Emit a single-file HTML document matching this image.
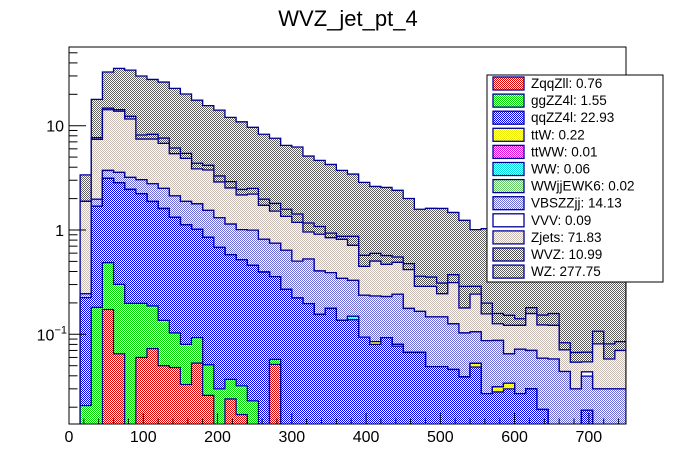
<!DOCTYPE html>
<html><head><meta charset="utf-8"><style>
html,body{margin:0;padding:0;background:#fff;}
svg{display:block;font-family:"Liberation Sans",Arial,sans-serif;}
</style></head><body>
<svg id="chart" width="696" height="472" viewBox="0 0 696 472" xmlns="http://www.w3.org/2000/svg">
<defs>
<pattern id="p-red" width="2" height="2" patternUnits="userSpaceOnUse"><rect width="2" height="2" fill="#fff"/><rect width="1" height="1" fill="#e00000"/><rect x="1" y="1" width="1" height="1" fill="#e00000"/></pattern>
<pattern id="p-green" width="2" height="2" patternUnits="userSpaceOnUse"><rect width="2" height="2" fill="#fff"/><rect width="1" height="1" fill="#00dd00"/><rect x="1" y="1" width="1" height="1" fill="#00dd00"/></pattern>
<pattern id="p-blue" width="2" height="2" patternUnits="userSpaceOnUse"><rect width="2" height="2" fill="#fff"/><rect width="1" height="1" fill="#0000ee"/><rect x="1" y="1" width="1" height="1" fill="#0000ee"/></pattern>
<pattern id="p-yellow" width="2" height="2" patternUnits="userSpaceOnUse"><rect width="2" height="2" fill="#fff"/><rect width="1" height="1" fill="#eeee00"/><rect x="1" y="1" width="1" height="1" fill="#eeee00"/></pattern>
<pattern id="p-magenta" width="2" height="2" patternUnits="userSpaceOnUse"><rect width="2" height="2" fill="#fff"/><rect width="1" height="1" fill="#e000e0"/><rect x="1" y="1" width="1" height="1" fill="#e000e0"/></pattern>
<pattern id="p-cyan" width="2" height="2" patternUnits="userSpaceOnUse"><rect width="2" height="2" fill="#fff"/><rect width="1" height="1" fill="#00e0e0"/><rect x="1" y="1" width="1" height="1" fill="#00e0e0"/></pattern>
<pattern id="p-lgreen" width="2" height="2" patternUnits="userSpaceOnUse"><rect width="2" height="2" fill="#fff"/><rect width="1" height="1" fill="#66cc66"/><rect x="1" y="1" width="1" height="1" fill="#66cc66"/></pattern>
<pattern id="p-lblue" width="2" height="2" patternUnits="userSpaceOnUse"><rect width="2" height="2" fill="#fff"/><rect width="1" height="1" fill="#6a6ad8"/><rect x="1" y="1" width="1" height="1" fill="#6a6ad8"/></pattern>
<pattern id="p-beige" width="2" height="2" patternUnits="userSpaceOnUse"><rect width="2" height="2" fill="#fff"/><rect width="1" height="1" fill="#c8bcb4"/><rect x="1" y="1" width="1" height="1" fill="#c8bcb4"/></pattern>
<pattern id="p-grey" width="2" height="2" patternUnits="userSpaceOnUse"><rect width="2" height="2" fill="#fff"/><rect width="1" height="1" fill="#505050"/><rect x="1" y="1" width="1" height="1" fill="#505050"/></pattern>
<pattern id="p-grey2" width="2" height="2" patternUnits="userSpaceOnUse"><rect width="2" height="2" fill="#fff"/><rect width="1" height="1" fill="#606060"/><rect x="1" y="1" width="1" height="1" fill="#606060"/></pattern>
<clipPath id="frame-clip"><rect x="69" y="47" width="557" height="377"/></clipPath>
</defs>
<text x="348" y="26" font-size="22" text-anchor="middle" fill="#000">WVZ_jet_pt_4</text>
<g id="bars" clip-path="url(#frame-clip)"></g>
<rect x="69" y="47" width="557" height="377" fill="none" stroke="#000" stroke-width="1"/>
<g id="axes"></g>
<g id="legend"></g>
</svg>
<script>
const binWidth = 15;
const xTickLabels = [0,100,200,300,400,500,600,700];
const yTickValues = [0.1,1,10];
const sampleNames = ["ZqqZll","ggZZ4l","qqZZ4l","ttW","ttWW","WW","WWjjEWK6","VBSZZjj","VVV","Zjets","WVZ","WZ"];
const sampleYields = ["0.76","1.55","22.93","0.22","0.01","0.06","0.02","14.13","0.09","71.83","10.99","277.75"];
const ZqqZll = [0,0,0,.173,.065,0,.060,.073,.050,.048,.033,.053,.026,0,.024,.017,0,0,.0515,0,0,0,0,0,0,0,0,0,0,0,0,0,0,0,0,0,0,0,0,0,0,0,0,0,0,0,0,0,0,0];
const ggZZ4l = [0,.0207,.181,.313,.236,.198,.138,.114,.086,.055,.047,.040,.025,.030,.013,.015,.023,0,.006,0,0,0,0,0,0,0,0,0,0,0,0,0,0,0,0,0,0,0,0,0,0,0,0,0,0,0,0,0,0,0];
const qqZZ4l = [0,.204,1.51,2.64,2.54,2.25,2.03,1.69,1.47,1.22,1.04,.92,.80,.65,.543,.487,.435,.395,.30,.27,.223,.197,.155,.177,.136,.138,.094,.080,.093,.077,.067,.067,.049,.049,.046,.039,.0486,.027,.028,.030,.027,.030,.019,0,0,0,.0187,0,0,0];
const ttW = [0,0,0,0,0,0,0,0,0,0,0,0,0,0,0,0,0,0,0,0,0,0,0,0,0,0,0,.005,0,.003,0,0,0,0,0,0,.004,0,.0033,.004,0,0,0,0,0,0,0,0,0,0];
const ttWW = [0,0,0,0,0,0,0,0,0,0,0,0,0,0,0,0,0,0,0,0,0,0,0,0,0,0,0,0,0,0,0,0,0,0,0,0,0,0,0,0,0,0,0,0,0,0,0,0,0,0];
const WW = [0,0,0,0,0,0,0,0,0,0,0,0,0,0,0,0,0,0,0,0,0,0,0,0,0,.011,0,0,0,0,0,0,0,0,0,0,0,0,0,0,0,0,0,0,0,0,0,0,0,0];
const WWjjEWK6 = [0,0,0,0,0,0,0,0,0,0,0,0,0,0,0,0,0,0,0,0,0,0,0,0,0,0,0,0,0,0,0,0,0,0,0,0,0,0,0,0,0,0,0,0,0,0,0,0,0,0];
const VBSZZjj = [0,.02,.28,.6,.73,.75,.81,.9,.9,.8,.76,.77,.69,.63,.56,.49,.54,.42,.39,.37,.28,.33,.25,.213,.208,.18,.143,.148,.137,.162,.11,.099,.098,.098,.08,.064,.053,.06,.056,.031,.045,.04,.04,.058,.044,.03,.021,.03,.03,.03];
const VVV = [0,0,0,0,0,0,0,0,0,0,0,0,0,0,0,0,0,0,0,0,0,0,0,0,0,0,0,0,0,0,0,0,0,0,0,0,0,0,0,0,0,0,0,0,0,0,.004,0,0,0];
const Zjets = [0,1.64,5.43,10.5,10.2,8.4,4.41,4.67,4.26,3.27,2.98,2.07,2.22,1.58,1.39,1.16,1.21,.91,.77,.71,.68,.43,.505,.454,.47,.384,.211,.271,.239,.248,.24,.122,.141,.098,.187,.076,.137,.07,.039,.057,.05,.088,.064,.064,.027,.024,.0107,.051,.028,.040];
const WVZ = [0,0,.28,.5,.5,.7,.69,.82,.85,.72,.57,.51,.41,.41,.38,.28,.30,.25,.28,.23,.24,.21,.17,.09,.056,.157,.124,.093,.10,.061,.059,.072,.066,.065,.06,.109,.046,.042,.032,.03,.019,.022,.03,.036,.012,.013,.013,.026,.023,.015];
const WZ = [0,1.49,10.2,18.0,21.2,21.8,21.8,19.5,18.6,16.7,14.7,13.2,11.4,10.8,9.1,8.45,7.14,6.30,5.78,4.90,4.83,3.95,3.57,3.32,2.86,2.57,2.29,2.02,1.99,1.85,1.53,1.22,1.26,1.30,1.10,.95,.72,.83,.73,.64,.57,.46,.42,.354,.39,.374,.342,.274,.273,.255];

const layers = [ZqqZll,ggZZ4l,qqZZ4l,ttW,ttWW,WW,WWjjEWK6,VBSZZjj,VVV,Zjets,WVZ,WZ];
const fills = ["p-red","p-green","p-blue","p-yellow","p-magenta","p-cyan","p-lgreen","p-lblue","#fff","p-beige","p-grey","p-grey2"];

const X0=69, X1=626, Y0=47, Y1=424, XMAX=750;
function xs(v){return X0+(v/XMAX)*(X1-X0);}
function ys(v){ if(v<=0) return Y1+2; const y=230-104.3*Math.log10(v); return Math.min(Y1+2,Math.max(Y0-2,y)); }
const NS="http://www.w3.org/2000/svg";
function mk(tag,attrs,parent){const e=document.createElementNS(NS,tag);for(const k in attrs)e.setAttribute(k,attrs[k]);parent.appendChild(e);return e;}

const bars=document.getElementById('bars');
const nb=WZ.length;
// cumulative
const cum=[];
let run=new Array(nb).fill(0);
for(let l=0;l<layers.length;l++){run=run.map((v,i)=>v+layers[l][i]);cum.push(run.slice());}
for(let l=layers.length-1;l>=0;l--){
  const c=cum[l];
  let d="M"+xs(0)+","+(Y1+2);
  for(let i=0;i<nb;i++){const y=ys(c[i]);d+=" L"+xs(i*binWidth).toFixed(2)+","+y.toFixed(2)+" L"+xs((i+1)*binWidth).toFixed(2)+","+y.toFixed(2);}
  d+=" L"+xs(nb*binWidth)+","+(Y1+2)+" Z";
  const f=fills[l];
  const p=mk('path',{d:d,fill:f.startsWith('#')?f:"url(#"+f+")",stroke:"#000099","stroke-width":"1.3"},bars);
  
  
}

const axes=document.getElementById('axes');
// x ticks
for(let v=0;v<=XMAX;v+=20){
  const major=v%100===0;
  const t=mk('line',{x1:xs(v),x2:xs(v),y1:Y1,y2:Y1-(major?11:5.5),stroke:"#000","stroke-width":1},axes);
  
  
}
xTickLabels.forEach(v=>{
  const t=mk('text',{x:xs(v),y:442,"font-size":16,"text-anchor":"middle"},axes);
  t.textContent=String(v);
  
  
});
// y ticks
for(let e=-2;e<=1;e++){
  for(let m=1;m<=9;m++){
    const v=m*Math.pow(10,e);
    const y=230-104.3*Math.log10(v);
    if(y<Y0||y>Y1) continue;
    const t=mk('line',{x1:X0,x2:X0+(m===1?17:8.5),y1:y,y2:y,stroke:"#000","stroke-width":1},axes);
    
    
  }
}
yTickValues.forEach(v=>{
  const y=230-104.3*Math.log10(v)+6;
  const t=mk('text',{x:64,y:y,"font-size":16,"text-anchor":"end"},axes);
  if(v===0.1){t.textContent="10";const s=mk('tspan',{dy:-7,"font-size":11},t);s.textContent="\u22121";t.setAttribute('x',67);}
  else t.textContent=String(v);
  
  
});

// legend
const lg=document.getElementById('legend');
const box=mk('rect',{x:487,y:75,width:176,height:207,fill:"#fff",stroke:"#000","stroke-width":1},lg);


for(let k=0;k<sampleNames.length;k++){
  const l=k;
  const cy=83+k*17.1;
  const f=fills[l];
  const sw=mk('rect',{x:493,y:cy-6,width:31,height:13,fill:f.startsWith('#')?f:"url(#"+f+")",stroke:"#000099","stroke-width":1.3},lg);
  
  
  const t=mk('text',{x:531,y:cy+5,"font-size":13.5},lg);
  t.textContent=sampleNames[l]+": "+sampleYields[l];
  
  
}
</script>
</body></html>
